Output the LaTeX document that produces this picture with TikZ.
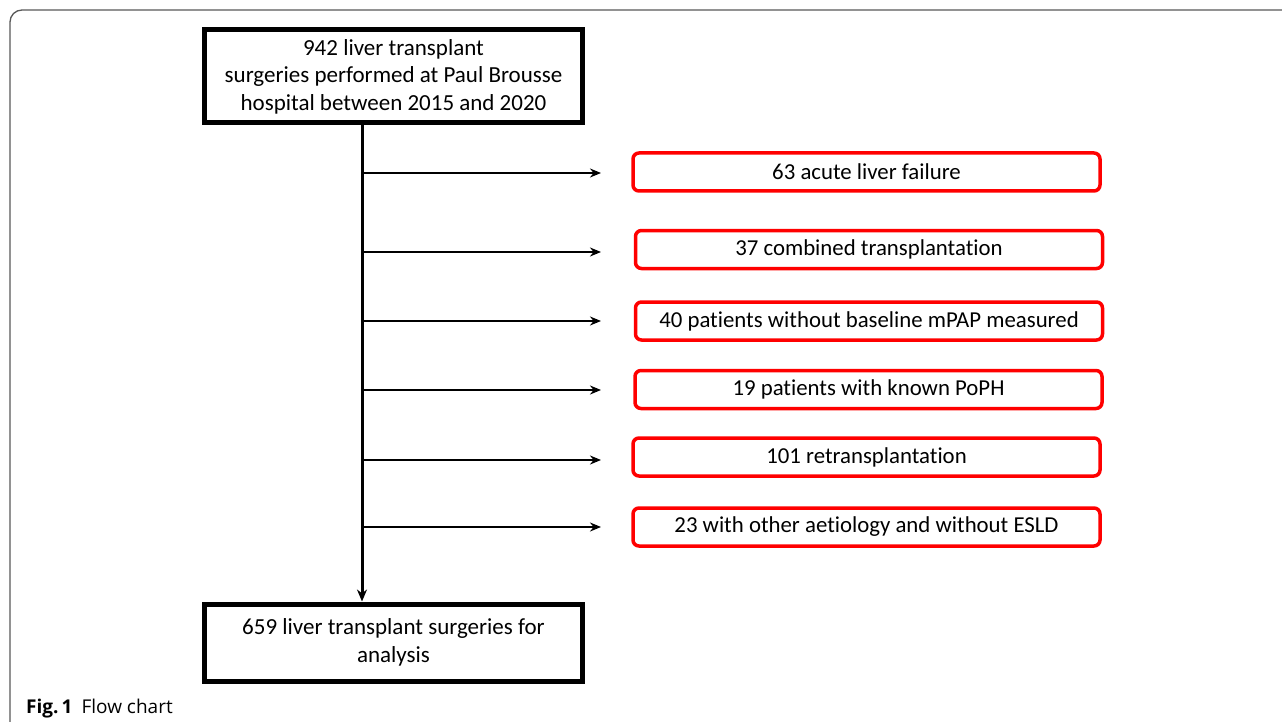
\documentclass[tikz,border=0pt]{standalone}
\usepackage{fontspec}
\setmainfont{Carlito}[Ligatures=NoCommon]
\newfontfamily\capfont{Open Sans}
\usetikzlibrary{arrows.meta}
\begin{document}
\begin{tikzpicture}[x=1pt,y=-1pt,
  mainbox/.style={draw=black,line width=5pt,minimum width=378pt,align=center,font=\fontsize{23}{27.5}\selectfont,inner sep=0pt},
  exbox/.style={draw=red,line width=3.5pt,rounded corners=6pt,minimum width=467pt,minimum height=38pt,inner sep=0pt,font=\fontsize{22.8}{26}\selectfont},
  flow/.style={line width=3pt},
  exarrow/.style={line width=2.6pt,-{Stealth[length=11pt,width=9pt]}}]
\useasboundingbox (0,0) rectangle (1282,722);
\fill[white] (0,0) rectangle (1282,722);
\draw[black!65,line width=1.3pt,rounded corners=12pt] (10,722) -- (10,10) -- (1282,10);
% main boxes
\node[mainbox,minimum height=93pt] (top) at (393.5,76.5) {942 liver transplant\\surgeries performed at Paul Brousse\\hospital between 2015 and 2020};
\node[mainbox,minimum height=77pt] (bot) at (393.5,642.5) {659 liver transplant surgeries for\\analysis};
% exclusion boxes
\node[exbox] (e1) at (866.5,172) {63 acute liver failure};
\node[exbox] (e2) at (869,249.5) {37 combined transplantation};
\node[exbox] (e3) at (869,321) {40 patients without baseline mPAP measured};
\node[exbox] (e4) at (868.5,389.5) {19 patients with known PoPH};
\node[exbox] (e5) at (866.5,457) {101 retransplantation};
\node[exbox] (e6) at (866.5,527) {23 with other aetiology and without ESLD};
% spine
\coordinate (s) at (362,125);
\draw[flow,-{Stealth[length=12pt,width=10pt]}] (s) -- (s |- bot.north);
\foreach \i/\y in {1/173,2/252,3/321,4/390,5/460,6/527}{
  \coordinate (a\i) at (362,\y);
  \coordinate (b\i) at (601,\y);
  \draw[exarrow] (a\i) -- (b\i);
}
% caption
\node[anchor=base west,inner sep=0pt,font=\capfont\fontsize{19}{22}\selectfont] (cap) at (26,713) {\textbf{Fig.\,1}\hspace{9pt}{\capfont\fontseries{l}\selectfont Flow chart}};
\end{tikzpicture}
\end{document}
